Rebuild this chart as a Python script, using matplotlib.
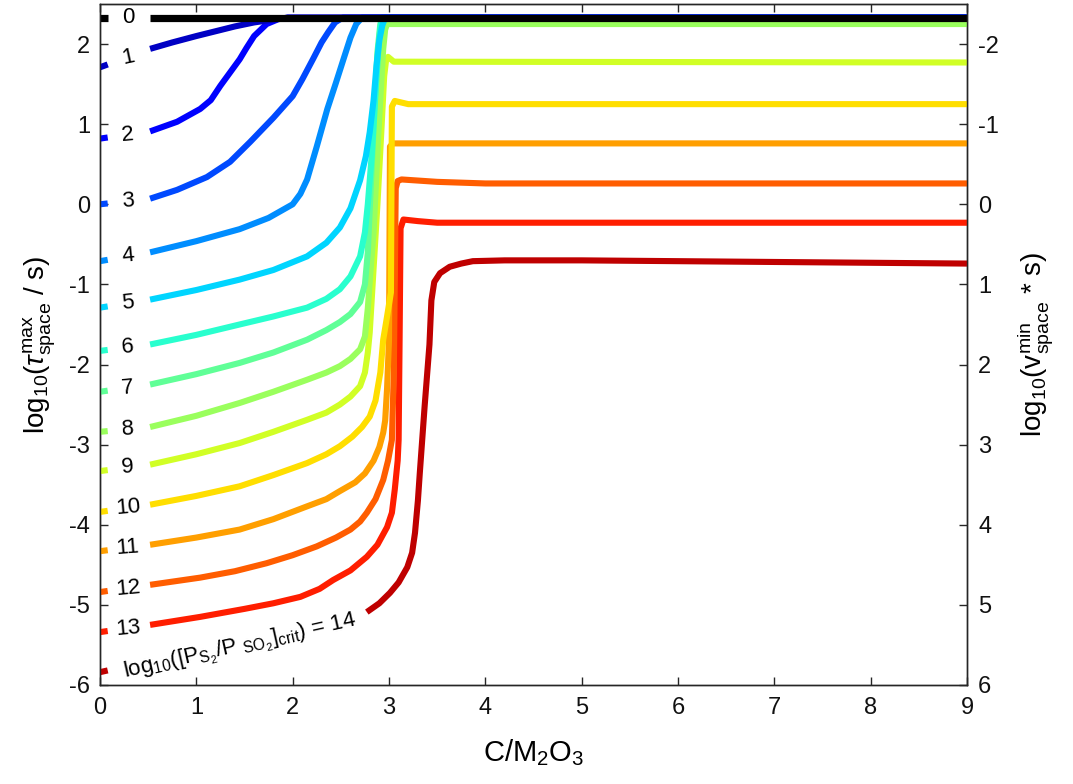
import numpy as np
import matplotlib
matplotlib.use('Agg')
import matplotlib.pyplot as plt

plt.rcParams['font.family'] = ['Liberation Sans', 'DejaVu Sans']
plt.rcParams['mathtext.fontset'] = 'custom'
plt.rcParams['mathtext.rm'] = 'Liberation Sans'
plt.rcParams['mathtext.it'] = 'Liberation Sans:italic'
plt.rcParams['mathtext.bf'] = 'Liberation Sans:bold'
plt.rcParams['axes.unicode_minus'] = False

# x = C/M2O3, y = log10(tau_max / s), one curve per log10([PS2/PSO2]crit)
c0_x = [0, 9]
c0_y = [2.33, 2.33]
c1_x = [0, 0.52, 0.75, 1.0, 1.2, 1.4, 1.6, 1.77, 1.95, 9]
c1_y = [1.71, 1.94, 2.02, 2.10, 2.16, 2.22, 2.27, 2.30, 2.33, 2.33]
c2_x = [0, 0.52, 0.8, 1.04, 1.15, 1.25, 1.45, 1.52, 1.6, 1.73, 1.85, 1.95, 9]
c2_y = [0.82, 0.91, 1.03, 1.19, 1.30, 1.48, 1.81, 1.95, 2.10, 2.25, 2.31, 2.33, 2.33]
c3_x = [0, 0.52, 0.8, 1.11, 1.35, 1.56, 1.8, 2.0, 2.1, 2.21, 2.3, 2.37, 2.44, 2.52, 9]
c3_y = [0.0, 0.07, 0.18, 0.34, 0.53, 0.78, 1.08, 1.35, 1.56, 1.81, 2.02, 2.15, 2.27, 2.33, 2.33]
c4_x = [0, 0.52, 1.0, 1.45, 1.75, 2.0, 2.08, 2.15, 2.25, 2.36, 2.45, 2.53, 2.6, 2.66, 2.72, 9]
c4_y = [-0.71, -0.6, -0.46, -0.31, -0.17, 0.0, 0.13, 0.31, 0.72, 1.19, 1.52, 1.82, 2.08, 2.25, 2.33, 2.33]
c5_x = [0, 0.52, 1.0, 1.45, 1.8, 2.15, 2.35, 2.49, 2.6, 2.7, 2.76, 2.8, 2.84, 2.87, 2.9, 2.93, 2.96, 9]
c5_y = [-1.29, -1.19, -1.07, -0.94, -0.82, -0.65, -0.48, -0.29, -0.05, 0.3, 0.6, 0.9, 1.3, 1.73,
        2.05, 2.23, 2.33, 2.33]
c6_x = [0, 0.52, 1.0, 1.45, 1.8, 2.15, 2.35, 2.49, 2.6, 2.7, 2.75, 2.78, 2.82, 2.86, 2.89, 2.91, 2.93, 9]
c6_y = [-1.83, -1.75, -1.63, -1.5, -1.4, -1.29, -1.18, -1.06, -0.9, -0.65, -0.35, 0.0, 0.6, 1.4,
        1.94, 2.2, 2.33, 2.33]
c7_x = [0, 0.52, 1.0, 1.45, 1.8, 2.15, 2.35, 2.49, 2.6, 2.7, 2.75, 2.78, 2.81, 2.85, 2.88, 2.91, 2.93, 9]
c7_y = [-2.34, -2.25, -2.12, -1.98, -1.85, -1.69, -1.57, -1.47, -1.37, -1.22, -1.0, -0.6, 0.2, 1.2,
        1.9, 2.25, 2.33, 2.33]
c8_x = [0, 0.52, 1.0, 1.45, 1.8, 2.15, 2.35, 2.49, 2.6, 2.7, 2.75, 2.78, 2.81, 2.84, 2.89, 2.94,
        2.96, 2.98, 9]
c8_y = [-2.84, -2.78, -2.64, -2.48, -2.34, -2.19, -2.1, -2.02, -1.93, -1.81, -1.65, -1.3, -0.8,
        -0.35, 0.9, 1.94, 2.18, 2.25, 2.25]
c9_x = [0, 0.52, 1.0, 1.45, 1.8, 2.15, 2.35, 2.49, 2.6, 2.7, 2.75, 2.78, 2.8, 2.84, 2.88, 2.92,
        2.95, 2.97, 2.99, 3.05, 9]
c9_y = [-3.33, -3.25, -3.12, -2.98, -2.84, -2.69, -2.6, -2.5, -2.4, -2.27, -2.1, -1.85, -1.6,
        -0.8, 0.0, 0.9, 1.6, 1.8, 1.84, 1.78, 1.77]
c10_x = [0, 0.52, 1.0, 1.45, 1.8, 2.15, 2.35, 2.49, 2.62, 2.72, 2.8, 2.86, 2.91, 2.94, 2.98,
         3.02, 3.03, 3.06, 3.2, 9]
c10_y = [-3.84, -3.75, -3.64, -3.52, -3.38, -3.23, -3.12, -3.02, -2.9, -2.78, -2.65, -2.45,
         -2.1, -1.69, -1.4, -1.1, 1.22, 1.29, 1.25, 1.25]
c11_x = [0, 0.52, 1.0, 1.45, 1.8, 2.15, 2.35, 2.49, 2.65, 2.75, 2.84, 2.9, 2.94, 2.96, 2.98,
         3.0, 3.01, 3.04, 9]
c11_y = [-4.33, -4.25, -4.16, -4.06, -3.93, -3.77, -3.68, -3.58, -3.47, -3.36, -3.2, -3.03,
         -2.85, -2.7, -2.3, -1.69, 0.72, 0.76, 0.76]
c12_x = [0, 0.52, 1.04, 1.4, 1.73, 2.0, 2.25, 2.45, 2.6, 2.7, 2.77, 2.86, 2.94, 2.99, 3.03,
         3.05, 3.07, 3.09, 3.13, 3.5, 4.0, 9]
c12_y = [-4.84, -4.75, -4.66, -4.58, -4.48, -4.38, -4.27, -4.16, -4.06, -3.96, -3.85, -3.68,
         -3.44, -3.2, -2.94, -2.1, 0.2, 0.29, 0.31, 0.28, 0.26, 0.26]
c13_x = [0, 0.52, 1.04, 1.5, 1.8, 2.08, 2.28, 2.42, 2.6, 2.77, 2.88, 2.98, 3.03, 3.06, 3.09,
         3.1, 3.11, 3.12, 3.15, 3.3, 3.5, 9]
c13_y = [-5.34, -5.25, -5.15, -5.05, -4.98, -4.9, -4.8, -4.69, -4.57, -4.4, -4.25, -4.03, -3.85,
         -3.56, -3.2, -2.94, -1.69, -0.3, -0.19, -0.21, -0.23, -0.23]
c14_x = [0, 2.77, 2.9, 3.01, 3.1, 3.19, 3.24, 3.27, 3.3, 3.32, 3.37, 3.42, 3.44, 3.47, 3.53,
         3.63, 3.75, 3.87, 4.2, 5.0, 7.0, 9]
c14_y = [-5.84, -5.09, -4.98, -4.85, -4.72, -4.53, -4.35, -4.1, -3.7, -3.35, -2.52, -1.75,
         -1.2, -0.97, -0.86, -0.78, -0.74, -0.71, -0.70, -0.70, -0.72, -0.74]

curves_x = [c0_x, c1_x, c2_x, c3_x, c4_x, c5_x, c6_x, c7_x,
            c8_x, c9_x, c10_x, c11_x, c12_x, c13_x, c14_x]
curves_y = [c0_y, c1_y, c2_y, c3_y, c4_y, c5_y, c6_y, c7_y,
            c8_y, c9_y, c10_y, c11_y, c12_y, c13_y, c14_y]
levels = list(range(15))

x_ticks = list(range(0, 10))
y_ticks = list(range(-6, 3))
y2_ticks = list(range(-2, 7))

# inline label gap (data x range where the line is broken)
GAP_LO = 0.08
GAP_HI = 0.52
GAP_HI_LAST = 2.77
LABEL_X = 0.29

fig = plt.figure(figsize=(10.73, 7.84), dpi=100)
ax = fig.add_axes([0.0932, 0.1263, 0.8080, 0.8686])

colors = plt.cm.jet(np.linspace(0.06, 0.945, 14))


def broken(xs, ys, lo, hi):
    xs = np.asarray(xs, float)
    ys = np.asarray(ys, float)
    left = xs < lo
    right = xs > hi
    bx = np.concatenate([xs[left], [lo, np.nan, hi], xs[right]])
    by = np.concatenate([ys[left], [np.interp(lo, xs, ys), np.nan,
                                     np.interp(hi, xs, ys)], ys[right]])
    return bx, by


for lev, xs, ys in zip(levels, curves_x, curves_y):
    hi = GAP_HI_LAST if lev == 14 else GAP_HI
    bx, by = broken(xs, ys, GAP_LO, hi)
    if lev == 0:
        ax.plot(bx, by, color='black', lw=5.2, solid_capstyle='butt',
                solid_joinstyle='round', zorder=20)
    else:
        ax.plot(bx, by, color=colors[lev - 1], lw=4.4, solid_capstyle='butt',
                solid_joinstyle='round', zorder=20 - lev)

ax.set_xlim(0, 9)
ax.set_ylim(-6, 2.5)
fig.canvas.draw()

# inline labels, tilted along the line
for lev, xs, ys in zip(levels[:-1], curves_x[:-1], curves_y[:-1]):
    p0 = ax.transData.transform((GAP_LO, np.interp(GAP_LO, xs, ys)))
    p1 = ax.transData.transform((GAP_HI, np.interp(GAP_HI, xs, ys)))
    ang = 0.6 * np.degrees(np.arctan2(p1[1] - p0[1], p1[0] - p0[0]))
    ax.text(LABEL_X, np.interp(LABEL_X, xs, ys), str(lev), fontsize=16,
            ha='center', va='center', rotation=ang, rotation_mode='anchor',
            color='black', zorder=30)

p0 = ax.transData.transform((GAP_LO, np.interp(GAP_LO, c14_x, c14_y)))
p1 = ax.transData.transform((GAP_HI_LAST, np.interp(GAP_HI_LAST, c14_x, c14_y)))
ang14 = np.degrees(np.arctan2(p1[1] - p0[1], p1[0] - p0[0]))
mid = (GAP_LO + GAP_HI_LAST) / 2 + 0.03
ax.text(mid, np.interp(mid, c14_x, c14_y) - 0.08,
        r'log$_{10}$([P$_{\mathrm{S}_2}$/P $_{\mathrm{SO}_2}$]$_{\mathrm{crit}}$) = 14',
        fontsize=16, ha='center', va='center', rotation=ang14,
        rotation_mode='anchor', zorder=30)

axis_col = '#262626'
ax.set_xticks(x_ticks)
ax.set_yticks(y_ticks)
ax.tick_params(axis='both', direction='in', length=6, width=1, colors=axis_col,
               labelsize=17, labelcolor='#111111')
ax.tick_params(axis='x', top=True, pad=9)
ax.tick_params(axis='y', right=False, pad=7)
for s in ax.spines.values():
    s.set_color(axis_col)
    s.set_linewidth(1.0)

ax2 = ax.twinx()
ax2.set_ylim(6, -2.5)
ax2.set_yticks(y2_ticks)
ax2.tick_params(axis='y', direction='in', length=6, width=1, colors=axis_col,
                labelsize=17, labelcolor='#111111', pad=8)
for s in ax2.spines.values():
    s.set_color(axis_col)
    s.set_linewidth(1.0)

ax.set_xlabel(r'C/M$_2$O$_3$', fontsize=21, labelpad=13)
ax.set_ylabel(r'log$_{10}$($\tau^{\mathrm{max}}_{\mathrm{space}}$ / s)', fontsize=20,
              labelpad=8)
ax2.set_ylabel(r'log$_{10}$(v$^{\mathrm{min}}_{\mathrm{space}}$ * s)', fontsize=20,
               rotation=90, labelpad=12)

fig.savefig('out.png', dpi=100)
